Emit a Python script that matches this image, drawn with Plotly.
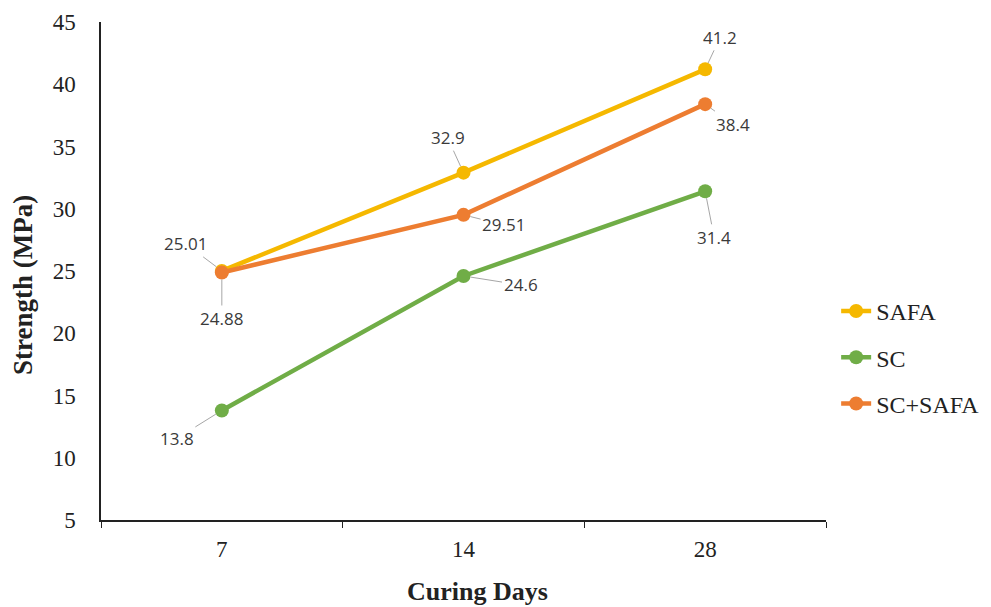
import plotly.graph_objects as go

days = ["7", "14", "28"]
safa = [25.01, 32.9, 41.2]
sc = [13.8, 24.6, 31.4]
sc_safa = [24.88, 29.51, 38.4]
series_names = ["SAFA", "SC", "SC+SAFA"]
safa_labels = ["25.01", "32.9", "41.2"]
sc_labels = ["13.8", "24.6", "31.4"]
sc_safa_labels = ["24.88", "29.51", "38.4"]
y_ticks = [5, 10, 15, 20, 25, 30, 35, 40, 45]
x_title = "Curing Days"
y_title = "Strength (MPa)"

colors = ["#F5B800", "#70AD47", "#ED7D31"]
series = [safa, sc, sc_safa]
labels = [safa_labels, sc_labels, sc_safa_labels]

fig = go.Figure()
for i, (name, vals, col) in enumerate(zip(series_names, series, colors)):
    fig.add_trace(go.Scatter(
        x=days, y=vals, name=name, mode="lines+markers",
        line=dict(color=col, width=4.5),
        marker=dict(color=col, size=14),
        legendgroup=name,
    ))

# label offsets (pixels) for each point: (ax, ay)
offsets = {
    0: [(-36, -27), (-16, -35), (15, -32)],
    1: [(-45, 28), (57, 9), (9, 46)],
    2: [(0, 46), (40, 10), (28, 20)],
}
for i, vals in enumerate(series):
    for j, v in enumerate(vals):
        ax, ay = offsets[i][j]
        fig.add_annotation(
            x=j, y=v, xref="x", yref="y", text=labels[i][j],
            showarrow=True, arrowhead=0, arrowwidth=1, arrowcolor="#A6A6A6",
            ax=ax, ay=ay, standoff=7,
            font=dict(family="Open Sans", size=17, color="#3a3a3a"),
        )

# axis titles
fig.add_annotation(
    x=0.519, y=-0.1426, xref="paper", yref="paper", showarrow=False,
    xanchor="center", yanchor="middle",
    text=f"<b>{x_title}</b>",
    font=dict(family="Liberation Serif", size=26, color="#222"),
)
fig.add_annotation(
    x=-0.1076, y=0.472, xref="paper", yref="paper", showarrow=False,
    xanchor="center", yanchor="middle", textangle=-90,
    text=f"<b>{y_title}</b>",
    font=dict(family="Liberation Serif", size=27, color="#222"),
)

fig.update_layout(
    width=991, height=599,
    margin=dict(l=93, r=173, t=14, b=87),
    plot_bgcolor="white", paper_bgcolor="white",
    showlegend=True,
    legend=dict(
        x=1.014, y=0.464, xanchor="left", yanchor="top",
        font=dict(family="Liberation Serif", size=24, color="#222"),
        traceorder="grouped", tracegroupgap=12,
        bgcolor="rgba(0,0,0,0)",
    ),
    xaxis=dict(
        type="category", range=[-0.5, 2.5], showgrid=False, showline=True,
        linecolor="#222", linewidth=1.5, automargin=False,
        ticks="outside", ticklen=6, tickcolor="#222", tickson="boundaries",
        ticklabelstandoff=8,
        tickfont=dict(family="Liberation Serif", size=23, color="#222"),
    ),
    yaxis=dict(
        range=[5, 45], tickvals=y_ticks, showgrid=False, showline=True,
        linecolor="#222", linewidth=1.5, automargin=False,
        ticks="", ticklabelstandoff=19,
        tickfont=dict(family="Liberation Serif", size=23, color="#222"),
        zeroline=False,
    ),
)

fig.write_html("out.html")
